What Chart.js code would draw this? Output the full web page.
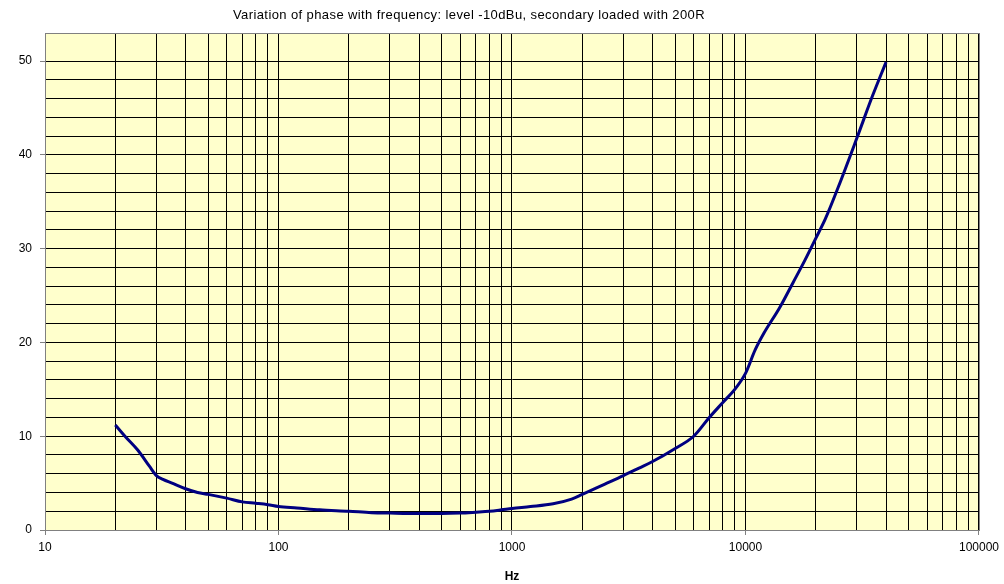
<!DOCTYPE html>
<html>
<head>
<meta charset="utf-8">
<script src="https://cdn.jsdelivr.net/npm/chart.js@4/dist/chart.umd.min.js"></script>
<style>
  html, body { margin: 0; padding: 0; background: #fff; }
  #wrap { width: 1004px; height: 584px; }
</style>
</head>
<body>
<div id="wrap"><canvas id="phaseChart" width="1004" height="584"></canvas></div>
<script>
  // --- DATA ---
  const titleText = 'Variation of phase with frequency: level -10dBu, secondary loaded with 200R';
  const freqs = [20, 22, 25, 28, 30, 32, 35, 40, 45, 50, 60, 70, 80, 90, 100, 120, 150, 200, 250, 300,
    400, 500, 600, 700, 800, 900, 1000, 1200, 1500, 1800, 2000, 2500, 3000, 3500, 4000, 5000, 6000,
    7000, 8000, 9000, 10000, 11000, 12000, 14000, 16000, 18000, 20000, 22000, 25000, 30000, 35000, 40000];
  const phase = [11.2, 10.0, 8.5, 6.8, 5.8, 5.4, 5.0, 4.4, 4.0, 3.8, 3.4, 3.0, 2.85, 2.7, 2.5, 2.35, 2.15, 2.0, 1.85, 1.8,
    1.75, 1.75, 1.8, 1.9, 2.0, 2.15, 2.3, 2.5, 2.8, 3.3, 3.8, 4.9, 5.8, 6.6, 7.3, 8.7, 10.0,
    12.0, 13.6, 15.0, 16.7, 19.2, 21.0, 23.7, 26.4, 28.8, 31.1, 33.2, 36.6, 41.8, 46.3, 49.9];
  const decades = [10, 100, 1000, 10000];
  const xMajor = [10, 100, 1000, 10000, 100000];
  const yLabelStep = 10;

  // every 1..9 multiple in each decade, for the log grid
  const xTicks = [];
  decades.forEach((d) => {
    for (let m = 1; m < 10; m++) xTicks.push(d * m);
  });
  xTicks.push(100000);

  const font = "'Liberation Sans', Arial, sans-serif";

  const plotBg = {
    id: 'plotBg',
    beforeDraw(chart) {
      const { ctx, chartArea: a } = chart;
      ctx.save();
      ctx.fillStyle = '#FFFFCC';
      ctx.fillRect(a.left, a.top, a.right - a.left, a.bottom - a.top);
      ctx.restore();
    },
    beforeDatasetsDraw(chart) {
      const { ctx, chartArea: a } = chart;
      ctx.save();
      ctx.strokeStyle = '#808080';
      ctx.lineWidth = 1;
      ctx.strokeRect(a.left + 0.5, a.top + 0.5, a.right - a.left, a.bottom - a.top);
      ctx.restore();
    },
    afterDraw(chart) {
      const { ctx } = chart;
      ctx.save();
      ctx.fillStyle = '#000';
      ctx.font = '13px ' + font;
      ctx.letterSpacing = '0.4px';
      ctx.textAlign = 'center';
      ctx.textBaseline = 'middle';
      ctx.fillText(titleText, 469, 15);
      ctx.restore();
    },
  };

  new Chart(document.getElementById('phaseChart'), {
    type: 'line',
    data: {
      labels: freqs,
      datasets: [{
        data: freqs.map((f, i) => ({ x: f, y: phase[i] })),
        borderColor: '#000080',
        borderWidth: 3,
        pointRadius: 0,
        cubicInterpolationMode: 'monotone',
        fill: false,
      }],
    },
    options: {
      responsive: false,
      animation: false,
      layout: { padding: { top: 33, right: 25, left: 0, bottom: 0 } },
      plugins: { legend: { display: false }, tooltip: { enabled: false } },
      scales: {
        x: {
          type: 'logarithmic',
          min: 10,
          max: 100000,
          afterBuildTicks: (s) => { s.ticks = xTicks.map((v) => ({ value: v })); },
          afterFit: (s) => { s.height = 54; },
          border: { color: '#808080', width: 1 },
          grid: {
            color: '#000',
            tickLength: 5,
            tickColor: (c) => (c.tick && xMajor.includes(c.tick.value) ? '#808080' : 'rgba(0,0,0,0)'),
          },
          ticks: {
            color: '#000',
            font: { family: font, size: 12 },
            padding: 5,
            maxRotation: 0,
            autoSkip: false,
            callback: (v) => (xMajor.includes(v) ? String(v) : ''),
          },
          title: {
            display: true,
            text: 'Hz',
            color: '#000',
            font: { family: font, size: 12, weight: 'bold' },
            padding: { top: 9, bottom: 0 },
          },
        },
        y: {
          min: 0,
          max: 53,
          afterFit: (s) => { s.width = 45; },
          border: { color: '#808080', width: 1 },
          grid: {
            color: '#000',
            tickLength: 5,
            tickColor: (c) => (c.tick && c.tick.value % yLabelStep === 0 ? '#808080' : 'rgba(0,0,0,0)'),
          },
          ticks: {
            stepSize: 2,
            color: '#000',
            font: { family: font, size: 12 },
            padding: 8,
            autoSkip: false,
            callback: (v) => (v % yLabelStep === 0 ? String(v) : ''),
          },
        },
      },
    },
    plugins: [plotBg],
  });
</script>
</body>
</html>
